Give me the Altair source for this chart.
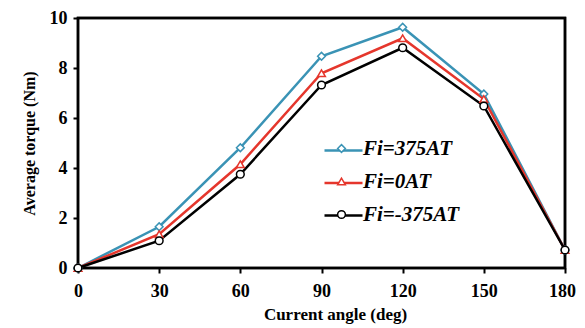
import altair as alt
import pandas as pd

angles = [0, 30, 60, 90, 120, 150, 180]
series_names = ["Fi=375AT", "Fi=0AT", "Fi=-375AT"]
torque_pos = [0.0, 1.65, 4.81, 8.47, 9.63, 6.96, 0.72]
torque_zero = [0.0, 1.35, 4.15, 7.79, 9.19, 6.76, 0.72]
torque_neg = [0.0, 1.09, 3.75, 7.32, 8.81, 6.48, 0.72]
colors = ["#3A93B5", "#E5362C", "#000000"]
x_ticks = [0, 30, 60, 90, 120, 150, 180]
y_ticks = [0, 2, 4, 6, 8, 10]

rows = []
for name, vals in zip(series_names, [torque_pos, torque_zero, torque_neg]):
    for a, v in zip(angles, vals):
        rows.append({"series": name, "line_key": name + " ", "angle": a, "torque": v})
df = pd.DataFrame(rows)
line_keys = [s + " " for s in series_names]

frame_df = pd.DataFrame(
    {"x0": [x_ticks[0]], "x1": [x_ticks[-1]], "y0": [y_ticks[0]], "y1": [y_ticks[-1]]}
)

FONT = "Liberation Serif"

color_scale = alt.Scale(domain=series_names, range=colors)
shape_scale = alt.Scale(domain=series_names, range=["diamond", "triangle-up", "circle"])
x_scale = alt.Scale(domain=[0, 180], nice=False)
y_scale = alt.Scale(domain=[0, 10], nice=False)

x_axis = alt.Axis(
    values=x_ticks,
    title="Current angle (deg)",
    titleX=257,
    labelFlush=False,
    labelOffset={"condition": {"test": "datum.value == 180", "value": -3}, "value": 0},
)
y_axis = alt.Axis(values=y_ticks, title="Average torque (Nm)", labelFlush=False)

x_enc = alt.X("angle:Q", scale=x_scale, axis=x_axis)
y_enc = alt.Y("torque:Q", scale=y_scale, axis=y_axis)

label_kw = dict(
    labelFont=FONT,
    labelFontSize=21,
    labelFontWeight="bold",
    labelFontStyle="italic",
    labelLimit=300,
    padding=0,
    orient="none",
    title=None,
)

base = alt.Chart(df)

frame = (
    alt.Chart(frame_df)
    .mark_rect(fill="transparent", stroke="#000000", strokeWidth=2.5)
    .encode(
        x=alt.X("x0:Q", scale=x_scale, axis=x_axis),
        x2="x1:Q",
        y=alt.Y("y0:Q", scale=y_scale, axis=y_axis),
        y2="y1:Q",
    )
)

lines = base.mark_line(strokeWidth=2.5).encode(
    x=x_enc,
    y=y_enc,
    stroke=alt.Stroke(
        "line_key:N",
        scale=alt.Scale(domain=line_keys, range=colors),
        legend=alt.Legend(
            symbolType="stroke",
            symbolSize=1444,
            symbolStrokeWidth=2.5,
            labelColor="transparent",
            labelOffset=3,
            legendX=245,
            legendY=112,
            rowPadding=1.5,
            **label_kw,
        ),
    ),
    detail="series:N",
)

point_legend = alt.Legend(
    symbolSize=60,
    symbolStrokeWidth=1.5,
    symbolFillColor="white",
    labelColor="black",
    labelOffset=11,
    legendX=253,
    legendY=120,
    rowPadding=11,
    **label_kw,
)

points = base.mark_point(filled=False, fill="white", strokeWidth=1.5, opacity=1).encode(
    x=x_enc,
    y=y_enc,
    color=alt.Color("series:N", scale=color_scale, legend=point_legend),
    shape=alt.Shape("series:N", scale=shape_scale, legend=point_legend),
    size=alt.value(60),
)

chart = (
    alt.layer(frame, lines, points)
    .properties(
        width=487,
        height=250,
        autosize=alt.AutoSizeParams(type="none"),
        padding={"left": 70, "top": 10, "right": 12, "bottom": 60},
    )
    .configure_view(stroke="#000000", strokeWidth=2.5)
    .configure_axis(
        grid=False,
        domain=False,
        tickColor="black",
        tickWidth=2,
        tickSize=5,
        labelFont=FONT,
        labelFontSize=18,
        labelFontWeight="bold",
        labelColor="black",
        labelPadding=6,
        titleFont=FONT,
        titleFontWeight="bold",
        titleColor="black",
    )
    .configure_axisX(labelPadding=9, titlePadding=6, titleFontSize=17)
    .configure_axisY(titlePadding=12, titleFontSize=16)
)

chart.save("out.html", embed_options={"renderer": "svg", "actions": False})
